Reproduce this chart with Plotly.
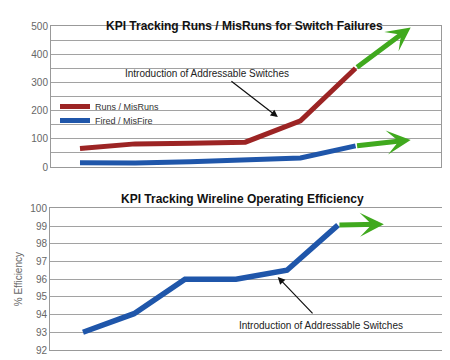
import plotly.graph_objects as go

# ---- data ----
periods = [0, 1, 2, 3, 4, 5, 6]
runs_misruns = [66, 82, 84, 88, 164, 350]
runs_projection = [350, 495]
fired_misfire = [15, 14, 19, 25, 32, 75]
fired_projection = [75, 96]

eff_x = [0, 1, 2, 3, 4, 5]
efficiency = [93.0, 94.05, 96.0, 96.0, 96.5, 99.05]
eff_proj_x = [5, 5.9]
eff_projection = [99.05, 99.1]

top_ticks = [0, 100, 200, 300, 400, 500]
bottom_ticks = [92, 93, 94, 95, 96, 97, 98, 99, 100]

RED = "#9c2424"
BLUE = "#1f56aa"
GREEN = "#40a91e"
GRID = "#a2a2a2"
FRAME = "#999999"
TICK = "#666666"
FONT = "Liberation Sans, Arial, sans-serif"

W, H, OFF = 450, 360, 8  # page body margin offsets the figure by 8px


def px_x(p):
    return (p - OFF) / W


def px_y(p):
    return 1 - (p - OFF) / H


fig = go.Figure()
fig.add_trace(go.Scatter(x=periods[:6], y=runs_misruns, mode="lines", name="Runs / MisRuns",
                         line=dict(color=RED, width=5), xaxis="x", yaxis="y", legend="legend"))
fig.add_trace(go.Scatter(x=periods[:6], y=fired_misfire, mode="lines", name="Fired / MisFire",
                         line=dict(color=BLUE, width=5), xaxis="x", yaxis="y", legend="legend2"))
fig.add_trace(go.Scatter(x=eff_x, y=efficiency, mode="lines", name="% Efficiency",
                         line=dict(color=BLUE, width=5.5), xaxis="x2", yaxis="y2", showlegend=False))

annotations = []
# green projection arrows
for (xs, ys, xr, yr) in [
    (periods[5:7], runs_projection, "x", "y"),
    (periods[5:7], fired_projection, "x", "y"),
    (eff_proj_x, eff_projection, "x2", "y2"),
]:
    annotations.append(dict(x=xs[1], y=ys[1], ax=xs[0], ay=ys[0], xref=xr, yref=yr,
                            axref=xr, ayref=yr, text="", showarrow=True, arrowhead=3,
                            arrowsize=0.8, arrowwidth=5, arrowcolor=GREEN, standoff=0))

# callouts
annotations.append(dict(x=2.30, y=330, xref="x", yref="y", text="Introduction of Addressable Switches",
                        showarrow=False, font=dict(size=10, color="#222222", family=FONT)))
annotations.append(dict(x=3.59, y=177, ax=2.72, ay=308, xref="x", yref="y", axref="x", ayref="y",
                        text="", showarrow=True, arrowhead=2, arrowsize=1.2, arrowwidth=1.2,
                        arrowcolor="#111111", standoff=0))
annotations.append(dict(x=4.67, y=93.41, xref="x2", yref="y2", text="Introduction of Addressable Switches",
                        showarrow=False, font=dict(size=10, color="#222222", family=FONT)))
annotations.append(dict(x=3.82, y=96.12, ax=4.53, ay=93.98, xref="x2", yref="y2", axref="x2", ayref="y2",
                        text="", showarrow=True, arrowhead=2, arrowsize=1.2, arrowwidth=1.2,
                        arrowcolor="#111111", standoff=0))

# titles
annotations.append(dict(x=px_x(245), y=px_y(17), xref="paper", yref="paper",
                        text="<b>KPI Tracking Runs / MisRuns for Switch Failures</b>", showarrow=False,
                        font=dict(size=12, color="#111111", family=FONT)))
annotations.append(dict(x=px_x(242), y=px_y(199), xref="paper", yref="paper",
                        text="<b>KPI Tracking Wireline Operating Efficiency</b>", showarrow=False,
                        font=dict(size=12, color="#111111", family=FONT)))

axis_common = dict(showline=True, mirror=True, linecolor=FRAME, linewidth=1, zeroline=False,
                   automargin=False, tickfont=dict(size=10, color=TICK, family=FONT))

fig.update_layout(
    width=W, height=H, margin=dict(l=0, r=0, t=0, b=0, autoexpand=False),
    paper_bgcolor="white", plot_bgcolor="white",
    font=dict(family=FONT),
    annotations=annotations,
    xaxis=dict(domain=[px_x(51), px_x(441)], range=[-0.526, 6.55], showgrid=False,
               showticklabels=False, anchor="y", **axis_common),
    yaxis=dict(domain=[px_y(167), px_y(26)], range=[0, 500], tickvals=top_ticks,
               showgrid=True, gridcolor=GRID, gridwidth=1,
               minor=dict(dtick=50, showgrid=True, gridcolor=GRID, gridwidth=1),
               anchor="x", **axis_common),
    xaxis2=dict(domain=[px_x(50), px_x(443)], range=[-0.647, 7.06], showgrid=False,
                showticklabels=False, anchor="y2", **axis_common),
    yaxis2=dict(domain=[px_y(350), px_y(208.3)], range=[92, 100], tickvals=bottom_ticks,
                showgrid=True, gridcolor=GRID, gridwidth=1, anchor="x2",
                title=dict(text="% Efficiency", font=dict(size=10, color=TICK, family=FONT), standoff=5),
                **axis_common),
    legend=dict(x=px_x(55), y=px_y(92), xanchor="left", yanchor="top", bgcolor="rgba(0,0,0,0)",
                font=dict(size=9, color="#333333", family=FONT), itemwidth=30),
    legend2=dict(x=px_x(55), y=px_y(106), xanchor="left", yanchor="top", bgcolor="rgba(0,0,0,0)",
                 font=dict(size=9, color="#333333", family=FONT), itemwidth=30),
)

fig.write_html("out.html")
